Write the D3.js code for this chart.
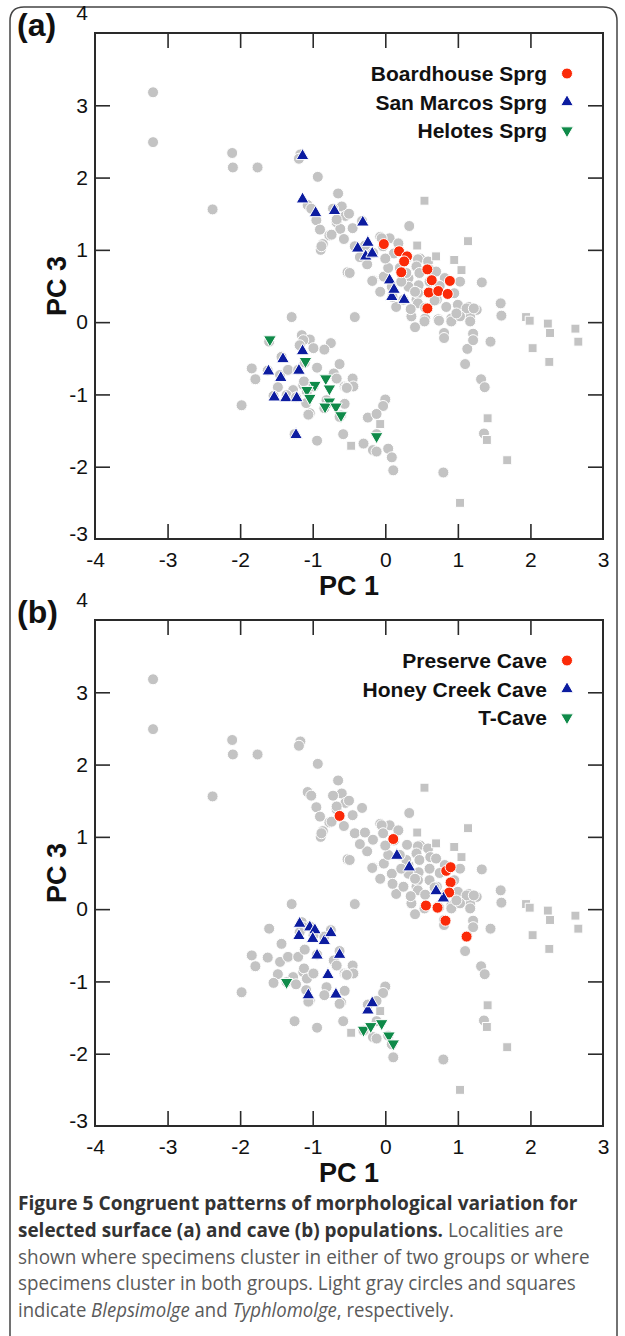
<!DOCTYPE html>
<html><head><meta charset="utf-8">
<script src="https://cdn.jsdelivr.net/npm/d3@7"></script>
<style>body{margin:0;background:#fff}svg{display:block}</style>
</head><body>
<svg id="c" width="625" height="1336"></svg>
<script>
const xTicks=[-4,-3,-2,-1,0,1,2,3];
const yTicks=[-3,-2,-1,0,1,2,3,4];
const axisXLabel="PC 1", axisYLabel="PC 3";
const panelTags=["(a)","(b)"];

// Blepsimolge (light gray circles) – same in both panels
const grayCircles=[
[-3.20,3.18],[-3.20,2.49],[-2.11,2.34],[-2.10,2.14],[-1.76,2.14],[-2.38,1.56],
[-1.17,2.32],[-1.19,2.26],[-0.93,2.01],[-0.65,1.78],[-1.07,1.62],[-1.02,1.57],[-0.95,1.41],[-0.90,1.28],
[-0.77,1.20],[-0.86,1.08],[-0.89,1.00],[-0.88,1.05],[-0.60,1.60],[-0.55,1.47],[-0.67,1.38],[-0.62,1.29],
[-0.57,1.15],[-0.52,0.69],[-0.72,1.57],[-0.67,1.42],[-0.74,1.21],[-0.32,1.40],[-0.50,1.50],[-0.45,1.30],
[0.33,1.33],[-0.07,1.18],[0.06,1.16],[0.18,1.09],[0.48,0.88],[0.30,0.89],[0.45,0.87],[0.59,0.84],
[-0.42,1.05],[-0.28,1.06],[-0.17,0.96],[-0.05,1.16],[-0.03,1.05],[-0.17,0.58],[-0.02,0.63],[0.04,0.75],
[0.32,0.61],[0.43,0.77],[0.46,0.51],[0.32,0.49],[0.82,0.61],[1.03,0.56],[1.33,0.55],[0.43,0.31],
[0.45,0.40],[0.15,0.21],[0.71,0.31],[0.84,0.21],[1.00,0.24],[1.15,0.21],[1.26,0.17],[1.59,0.26],
[1.60,0.09],[0.36,0.08],[0.55,0.05],[0.73,0.04],[0.91,0.05],[1.17,0.07],[-0.42,0.07],[-0.49,0.68],
[-0.18,0.57],[0.09,0.49],[-0.07,0.42],[0.29,0.68],[0.22,0.56],[0.47,0.68],[0.61,0.56],[0.41,0.42],
[0.45,0.26],[0.25,0.31],[0.61,0.40],[1.12,0.19],[1.22,0.19],[0.41,-0.07],[0.54,0.01],[0.74,0.02],
[0.91,0.01],[1.03,0.08],[1.17,0.01],[1.45,-0.27],[1.13,-0.37],[1.21,-0.16],[1.21,-0.25],[1.10,-0.58],
[1.32,-0.79],[1.37,-0.90],[0.81,-0.15],[0.81,-0.22],[0.62,0.72],[0.75,0.50],[0.95,0.40],[0.68,0.30],
[0.55,0.20],[0.35,0.18],[0.10,0.35],[0.98,0.12],[0.20,0.75],[0.12,0.95],[0.00,0.88],[-0.25,0.80],
[-0.35,0.90],[0.70,0.70],[-1.29,0.07],
[-1.15,-0.18],[-1.04,-0.24],[-1.13,-0.25],[-1.18,-0.32],[-0.75,-0.29],[-0.84,-0.38],[-0.99,-0.36],
[-1.84,-0.64],[-1.79,-0.79],[-1.98,-1.15],[-1.35,-0.67],[-0.94,-0.63],[-0.63,-0.58],[-0.70,-0.73],
[-1.48,-0.90],[-1.04,-1.26],[-0.94,-1.64],[-0.56,-0.89],[-0.58,-1.55],[-1.13,-0.87],[-1.27,-0.94],
[-1.09,-1.12],[-1.36,-1.01],[-0.45,-0.78],[-0.44,-0.89],[-0.54,-0.90],[-0.56,-1.13],[-0.61,-1.29],
[-1.60,-0.27],[-1.43,-0.48],[-1.62,-0.67],[-1.45,-0.73],[-1.34,-0.66],[-1.20,-0.66],[-1.11,-0.56],
[-1.12,-0.82],[-1.54,-1.02],[-1.23,-1.04],[-1.08,-0.96],[-0.99,-0.89],[-0.81,-1.08],[-0.84,-1.19],
[-1.06,-1.28],[-0.63,-1.31],[-1.25,-1.55],[-0.71,-0.71],[-0.67,-0.78],[-0.53,-0.91],
[0.00,-1.07],[-0.03,-1.16],[-0.24,-1.32],[-0.12,-1.27],[-0.30,-1.68],[-0.17,-1.77],[-0.12,-1.79],
[0.04,-1.75],[0.09,-1.87],[0.11,-2.05],[-0.12,-1.55],[0.80,-2.08],[1.36,-1.54]
];
// Typhlomolge (light gray squares)
const graySquares=[
[0.54,1.68],[0.44,1.06],[1.14,1.12],[0.70,0.91],[0.95,0.86],[1.05,0.72],[1.94,0.07],[1.99,0.02],
[2.24,-0.02],[2.27,-0.15],[2.62,-0.09],[2.66,-0.27],[2.03,-0.36],[2.26,-0.55],[1.41,-1.33],[1.40,-1.63],
[1.68,-1.91],[1.03,-2.50],[-0.07,-1.41],[-0.47,-1.71]
];

// panel (a) surface populations
const aNames=["Boardhouse Sprg","San Marcos Sprg","Helotes Sprg"];
const aRed=[[-0.02,1.08],[0.19,0.98],[0.30,0.91],[0.26,0.84],[0.22,0.69],[0.58,0.73],[0.64,0.58],
[0.89,0.57],[0.60,0.41],[0.73,0.43],[0.86,0.39],[0.58,0.19]];
const aBlue=[[-1.14,2.30],[-1.14,1.70],[-0.96,1.51],[-0.70,1.54],[-0.31,1.38],[-0.24,1.10],[-0.38,1.02],
[-0.27,0.91],[-0.18,0.95],[0.06,0.58],[0.09,0.35],[0.12,0.45],[0.26,0.31],[-1.14,-0.40],[-1.41,-0.51],
[-1.61,-0.68],[-1.44,-0.77],[-1.19,-0.67],[-1.53,-1.04],[-1.37,-1.05],[-1.22,-1.05],[-1.23,-1.56]];
const aGreen=[[-1.59,-0.24],[-1.10,-0.54],[-0.82,-0.78],[-0.97,-0.87],[-1.08,-0.94],[-0.77,-0.92],
[-1.04,-1.05],[-0.77,-1.10],[-0.83,-1.17],[-0.68,-1.17],[-0.61,-1.29],[-0.12,-1.58]];

// panel (b) cave populations
const bNames=["Preserve Cave","Honey Creek Cave","T-Cave"];
const bRed=[[-0.63,1.29],[0.11,0.97],[0.84,0.53],[0.90,0.58],[0.90,0.37],[0.88,0.23],[0.56,0.05],
[0.72,0.02],[0.83,-0.16],[1.12,-0.38]];
const bBlue=[[0.16,0.74],[0.33,0.58],[0.80,0.15],[0.70,0.25],[-1.18,-0.20],[-1.04,-0.25],[-0.97,-0.29],
[-1.19,-0.37],[-1.00,-0.41],[-0.84,-0.44],[-0.75,-0.33],[-0.94,-0.64],[-0.63,-0.63],[-0.79,-0.91],
[-1.06,-1.19],[-0.68,-1.18],[-0.24,-1.40],[-0.18,-1.30]];
const bGreen=[[-1.36,-1.01],[-0.30,-1.67],[-0.20,-1.62],[-0.05,-1.58],[0.05,-1.75],[0.11,-1.86]];

const captionLines=[
 [["b","Figure 5 Congruent patterns of morphological variation for"]],
 [["b","selected surface (a) and cave (b) populations."],["r"," Localities are"]],
 [["r","shown where specimens cluster in either of two groups or where"]],
 [["r","specimens cluster in both groups. Light gray circles and squares"]],
 [["r","indicate "],["i","Blepsimolge"],["r"," and "],["i","Typhlomolge"],["r",", respectively."]]
];

const svg=d3.select("#c");
const COL={gray:"#c3c3c3",red:"#fb2a08",blue:"#0c1ca0",green:"#0f8a49",axis:"#2a2a2a"};
const FONT="Liberation Sans, Arial, Helvetica, sans-serif";

svg.append("path")
 .attr("d","M10,1336 V21 Q10,7 24,7 H603 Q617,7 617,21 V1336")
 .attr("fill","none").attr("stroke","#444").attr("stroke-width",1.5);

const symCircle=d3.symbol().type(d3.symbolCircle).size(95);
const symSquare=d3.symbol().type(d3.symbolSquare).size(80);
const symTri=d3.symbol().type(d3.symbolTriangle).size(70);
const fmt=d=>String(d);

function panel(top, tag, names, red, blue, green){
  const L=95,R=603,T=top,B=top+506;
  const x=d3.scaleLinear().domain([-4,3]).range([L,R]);
  const y=d3.scaleLinear().domain([-3,4]).range([B,T]);
  const g=svg.append("g");

  g.append("g").selectAll("path").data(grayCircles).join("path")
   .attr("d",symCircle).attr("transform",d=>`translate(${x(d[0])},${y(d[1])})`)
   .attr("fill",COL.gray).attr("stroke","#fff").attr("stroke-width",1);
  g.append("g").selectAll("path").data(graySquares).join("path")
   .attr("d",symSquare).attr("transform",d=>`translate(${x(d[0])},${y(d[1])})`)
   .attr("fill",COL.gray).attr("stroke","#fff").attr("stroke-width",1);
  g.append("g").selectAll("path").data(red).join("path")
   .attr("d",symCircle).attr("transform",d=>`translate(${x(d[0])},${y(d[1])})`)
   .attr("fill",COL.red).attr("stroke","#fff").attr("stroke-width",1);
  g.append("g").selectAll("path").data(blue).join("path")
   .attr("d",symTri).attr("transform",d=>`translate(${x(d[0])},${y(d[1])})`)
   .attr("fill",COL.blue).attr("stroke","#fff").attr("stroke-width",1);
  g.append("g").selectAll("path").data(green).join("path")
   .attr("d",symTri).attr("transform",d=>`translate(${x(d[0])},${y(d[1])}) rotate(180)`)
   .attr("fill",COL.green).attr("stroke","#fff").attr("stroke-width",1);

  const inner=xTicks.slice(1,-1), innerY=yTicks.slice(1,-1);
  const gb=g.append("g").attr("transform",`translate(0,${B})`)
   .call(d3.axisBottom(x).tickValues(xTicks).tickSize(-15).tickSizeOuter(0).tickPadding(13).tickFormat(fmt));
  const gl=g.append("g").attr("transform",`translate(${L},0)`)
   .call(d3.axisLeft(y).tickValues(yTicks).tickSize(-15).tickSizeOuter(0).tickPadding(7).tickFormat(fmt));
  g.append("g").attr("transform",`translate(0,${T})`)
   .call(d3.axisTop(x).tickValues(inner).tickSize(-15).tickSizeOuter(0).tickFormat(""));
  g.append("g").attr("transform",`translate(${R},0)`)
   .call(d3.axisRight(y).tickValues(innerY).tickSize(-15).tickSizeOuter(0).tickFormat(""));
  g.selectAll(".domain").remove();
  g.selectAll(".tick line").attr("stroke",COL.axis).attr("stroke-width",1.6);
  [gb,gl].forEach(a=>{a.attr("font-family",FONT);
    a.selectAll("text").attr("font-family",FONT).attr("font-size",21).attr("fill","#111");});
  gb.selectAll(".tick").filter(d=>d===-4||d===3).select("line").remove();
  gl.selectAll(".tick").filter(d=>d===-3||d===4).select("line").remove();
  gl.selectAll(".tick").filter(d=>d===-3).select("text").attr("dy","0.05em");
  gl.selectAll(".tick").filter(d=>d===4).select("text").attr("dy","-0.62em");

  g.append("rect").attr("x",L).attr("y",T).attr("width",R-L).attr("height",B-T)
   .attr("fill","none").attr("stroke",COL.axis).attr("stroke-width",2);

  g.append("text").attr("x",(L+R)/2).attr("y",B+56).attr("text-anchor","middle")
   .attr("font-family",FONT).attr("font-weight","bold").attr("font-size",27).attr("fill","#111").text(axisXLabel);
  g.append("text").attr("transform",`translate(66,${(T+B)/2}) rotate(-90)`).attr("text-anchor","middle")
   .attr("font-family",FONT).attr("font-weight","bold").attr("font-size",27).attr("fill","#111").text(axisYLabel);

  g.append("text").attr("x",17).attr("y",T+3).attr("font-family",FONT).attr("font-weight","bold")
   .attr("font-size",32).attr("fill","#111").text(tag);

  const cols=[COL.red,COL.blue,COL.green];
  const leg=g.append("g");
  names.forEach((n,i)=>{
    const by=T+48+i*28.5;
    leg.append("text").attr("x",547).attr("y",by).attr("text-anchor","end")
     .attr("font-family",FONT).attr("font-weight","bold").attr("font-size",21).attr("fill","#111").text(n);
    const s=i===0?symCircle:symTri;
    leg.append("path").attr("d",s)
     .attr("transform",`translate(567,${by-7.5})${i===2?" rotate(180)":""}`)
     .attr("fill",cols[i]).attr("stroke","#fff").attr("stroke-width",1);
  });
}
panel(33,panelTags[0],aNames,aRed,aBlue,aGreen);
panel(620,panelTags[1],bNames,bRed,bBlue,bGreen);

// caption: each line fitted to its measured width with a horizontal scale
const capW=[560,546,572,558,436];
const cap=svg.append("g").attr("font-family","'Open Sans', 'Noto Sans', sans-serif").attr("font-size",20);
captionLines.forEach((line,i)=>{
  const t=cap.append("text").attr("x",0).attr("y",0);
  line.forEach(([k,s])=>{
    t.append("tspan").text(s)
     .attr("font-weight",k==="b"?"bold":"normal")
     .attr("font-style",k==="i"?"italic":"normal")
     .attr("fill",k==="b"?"#333":"#5a5a5a");
  });
  const w=t.node().getComputedTextLength();
  const sx=w>0?capW[i]/w:1;
  t.attr("transform",`translate(18,${1210+i*26.8}) scale(${sx},1)`);
});
</script>
</body></html>
